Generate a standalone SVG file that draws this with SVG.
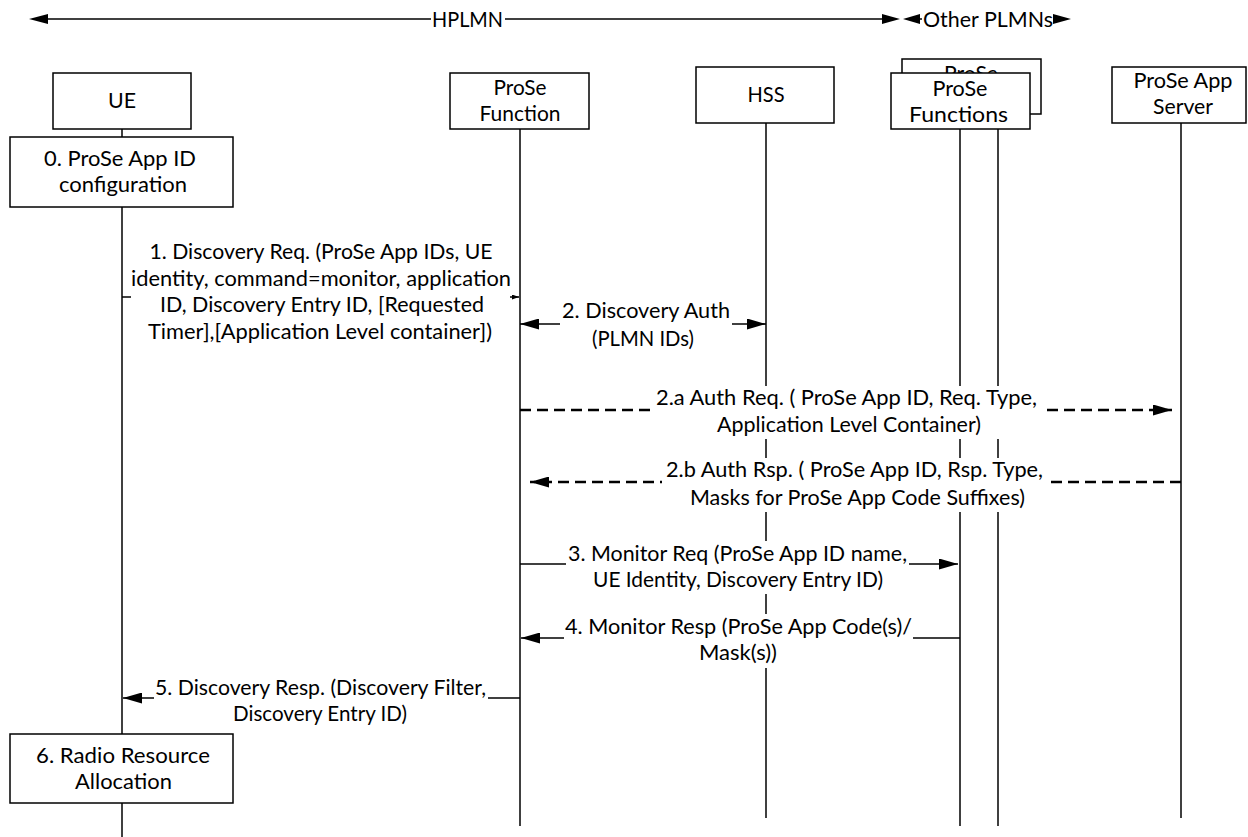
<svg xmlns="http://www.w3.org/2000/svg" width="1248" height="837" viewBox="0 0 1248 837">
<defs>
<style>
.t{font-family:Lato,"Liberation Sans","DejaVu Sans",sans-serif;font-size:21px;text-anchor:middle;fill:#000}
.box{fill:#fff;stroke:#000;stroke-width:1.5}
.life{stroke:#000;stroke-width:1.5;fill:none}
.msg{stroke:#000;stroke-width:1.4;fill:none}
.dash{stroke:#000;stroke-width:2.6;fill:none;stroke-dasharray:11 6}
.bg{fill:#fff;stroke:none}
.head{fill:#000}
</style>
<marker id="ah" markerWidth="19" markerHeight="11" refX="19" refY="5.5" orient="auto-start-reverse" markerUnits="userSpaceOnUse"><path d="M0,0 L19,5.5 L0,11 z" fill="#000"/></marker>
<marker id="ahs" markerWidth="7" markerHeight="5" refX="7" refY="2.5" orient="auto" markerUnits="userSpaceOnUse"><path d="M0,0 L7,2.5 L0,5 z" fill="#000"/></marker>
<clipPath id="backclip"><rect x="902" y="59" width="139" height="14"/></clipPath>
</defs>
<rect width="1248" height="837" fill="#fff"/>

<g id="scope">
<line class="msg" x1="46" y1="19" x2="884" y2="19" stroke-width="1.6"/>
<polygon class="head" points="29,19 48,14 48,24"/>
<polygon class="head" points="900,19 882,14 882,24"/>
<rect class="bg" x="431" y="8" width="74" height="22"/>
<text class="t" x="467.5" y="27" textLength="71" lengthAdjust="spacingAndGlyphs">HPLMN</text>
<line class="msg" x1="918" y1="19" x2="1056" y2="19" stroke-width="1.6"/>
<polygon class="head" points="903,19 920,14 920,24"/>
<rect class="bg" x="922" y="8" width="132" height="22"/>
<text class="t" x="988" y="27" textLength="130" lengthAdjust="spacingAndGlyphs">Other PLMNs</text>
<polygon class="head" points="1071,19 1053,14 1053,24"/>
</g>

<g id="lifelines">
<line class="life" x1="122" y1="129" x2="122" y2="837"/>
<line class="life" x1="520" y1="129" x2="520" y2="826"/>
<line class="life" x1="766" y1="123" x2="766" y2="818"/>
<line class="life" x1="960" y1="129" x2="960" y2="826"/>
<line class="life" x1="998" y1="114" x2="998" y2="826"/>
<line class="life" x1="1181" y1="123" x2="1181" y2="818"/>
</g>

<g id="connectors">
<line class="msg" x1="122" y1="297" x2="519" y2="297" stroke-width="1.2" marker-end="url(#ahs)"/>
<line class="msg" x1="520" y1="324" x2="766" y2="324" marker-start="url(#ah)" marker-end="url(#ah)"/>
<line class="dash" x1="520" y1="410" x2="1172" y2="410" marker-end="url(#ah)"/>
<line class="dash" x1="1181" y1="482" x2="530" y2="482" marker-end="url(#ah)"/>
<line class="msg" x1="520" y1="564" x2="958" y2="564" marker-end="url(#ah)"/>
<line class="msg" x1="960" y1="638" x2="521" y2="638" marker-end="url(#ah)"/>
<line class="msg" x1="520" y1="698" x2="123" y2="698" marker-end="url(#ah)"/>
</g>

<g id="labels">
<g id="label1">
<rect class="bg" x="131" y="240" width="379" height="107"/>
<text class="t" x="321" y="259" textLength="343" lengthAdjust="spacingAndGlyphs">1. Discovery Req. (ProSe App IDs, UE</text>
<text class="t" x="321" y="286" textLength="380" lengthAdjust="spacingAndGlyphs">identity, command=monitor, application</text>
<text class="t" x="322" y="312" textLength="324" lengthAdjust="spacingAndGlyphs">ID, Discovery Entry ID, [Requested</text>
<text class="t" x="320" y="339" textLength="344" lengthAdjust="spacingAndGlyphs">Timer],[Application Level container])</text>
</g>
<g id="label2">
<rect class="bg" x="560" y="300" width="172" height="52"/>
<text class="t" x="646" y="318" textLength="168" lengthAdjust="spacingAndGlyphs">2. Discovery Auth</text>
<text class="t" x="643" y="346" textLength="102" lengthAdjust="spacingAndGlyphs">(PLMN IDs)</text>
</g>
<g id="label2a">
<rect class="bg" x="652" y="386" width="389" height="53"/>
<text class="t" x="846.5" y="405" textLength="381" lengthAdjust="spacingAndGlyphs">2.a Auth Req. ( ProSe App ID, Req. Type,</text>
<text class="t" x="849" y="432" textLength="264" lengthAdjust="spacingAndGlyphs">Application Level Container)</text>
</g>
<g id="label2b">
<rect class="bg" x="662" y="458" width="385" height="54"/>
<text class="t" x="854.5" y="477" textLength="377" lengthAdjust="spacingAndGlyphs">2.b Auth Rsp. ( ProSe App ID, Rsp. Type,</text>
<text class="t" x="857.5" y="505" textLength="335" lengthAdjust="spacingAndGlyphs">Masks for ProSe App Code Suffixes)</text>
</g>
<g id="label3">
<rect class="bg" x="566" y="541" width="343" height="53"/>
<text class="t" x="737.5" y="561" textLength="339" lengthAdjust="spacingAndGlyphs">3. Monitor Req (ProSe App ID name,</text>
<text class="t" x="738" y="587" textLength="290" lengthAdjust="spacingAndGlyphs">UE Identity, Discovery Entry ID)</text>
</g>
<g id="label4">
<rect class="bg" x="564" y="614" width="349" height="54"/>
<text class="t" x="738.5" y="634" textLength="347" lengthAdjust="spacingAndGlyphs">4. Monitor Resp (ProSe App Code(s)/</text>
<text class="t" x="738" y="660" textLength="78" lengthAdjust="spacingAndGlyphs">Mask(s))</text>
</g>
<g id="label5">
<rect class="bg" x="154" y="676" width="334" height="50"/>
<text class="t" x="320.5" y="695" textLength="331" lengthAdjust="spacingAndGlyphs">5. Discovery Resp. (Discovery Filter,</text>
<text class="t" x="320" y="721" textLength="174" lengthAdjust="spacingAndGlyphs">Discovery Entry ID)</text>
</g>
</g>

<g id="node-ue">
<rect class="box" x="53" y="73" width="138" height="56"/>
<text class="t" x="122" y="108" textLength="28" lengthAdjust="spacingAndGlyphs">UE</text>
</g>
<g id="node-step0">
<rect class="box" x="10" y="137" width="223" height="70"/>
<text class="t" x="120" y="166" textLength="152" lengthAdjust="spacingAndGlyphs">0. ProSe App ID</text>
<text class="t" x="123" y="192" textLength="128" lengthAdjust="spacingAndGlyphs">configuration</text>
</g>
<g id="node-step6">
<rect class="box" x="10" y="734" width="223" height="69"/>
<text class="t" x="123" y="763" textLength="174" lengthAdjust="spacingAndGlyphs">6. Radio Resource</text>
<text class="t" x="123.5" y="789" textLength="97" lengthAdjust="spacingAndGlyphs">Allocation</text>
</g>
<g id="node-prose-function">
<rect class="box" x="450" y="73" width="139" height="56"/>
<text class="t" x="520" y="95" textLength="53" lengthAdjust="spacingAndGlyphs">ProSe</text>
<text class="t" x="520" y="121" textLength="81" lengthAdjust="spacingAndGlyphs">Function</text>
</g>
<g id="node-hss">
<rect class="box" x="696" y="67" width="138" height="56"/>
<text class="t" x="766" y="102" textLength="37" lengthAdjust="spacingAndGlyphs">HSS</text>
</g>
<g id="node-prose-functions">
<rect class="box" x="902" y="59" width="139" height="55"/>
<text class="t" x="971" y="81" textLength="54" lengthAdjust="spacingAndGlyphs" clip-path="url(#backclip)">ProSe</text>
<rect class="box" x="891" y="73" width="139" height="56"/>
<text class="t" x="960" y="96" textLength="55" lengthAdjust="spacingAndGlyphs">ProSe</text>
<text class="t" x="958.5" y="122" textLength="99" lengthAdjust="spacingAndGlyphs">Functions</text>
</g>
<g id="node-app-server">
<rect class="box" x="1112" y="67" width="134" height="56"/>
<text class="t" x="1183" y="88" textLength="99" lengthAdjust="spacingAndGlyphs">ProSe App</text>
<text class="t" x="1183" y="114" textLength="60" lengthAdjust="spacingAndGlyphs">Server</text>
</g>
</svg>
